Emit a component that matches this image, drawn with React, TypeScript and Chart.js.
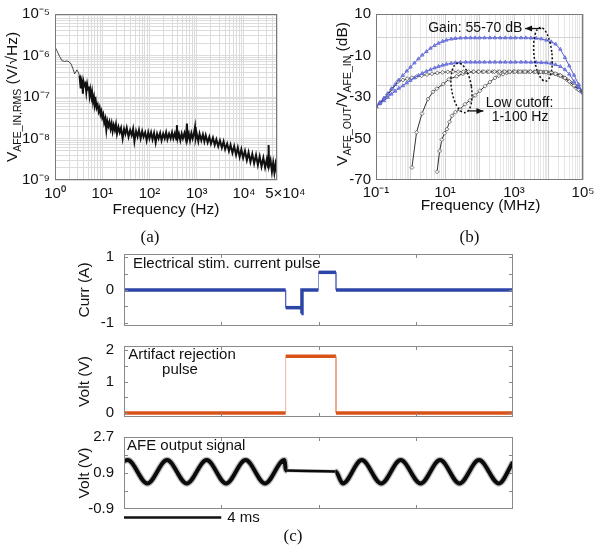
import React, { useEffect, useRef } from "react";
import { Chart, registerables } from "chart.js";
Chart.register(...registerables);

const FONT = '"Liberation Sans", Arial, Helvetica, sans-serif';
const SERIF = '"Liberation Serif", "Times New Roman", serif';
Chart.defaults.font.family = FONT;
Chart.defaults.color = "#111";

// ---------- Panel (a): input-referred noise ----------
const noiseFreqHz = [1, 1.1, 1.25, 1.4, 1.6, 1.8, 2.0, 2.2, 2.4, 2.6, 2.75, 2.9, 3.1, 3.3,
  3.5, 3.6, 3.75, 3.9, 4.0, 4.2, 4.4, 4.6, 4.8, 5.0, 5.2, 5.4, 5.6, 5.9, 6.1, 6.4, 6.7, 7.0, 7.3, 7.6, 8.0, 8.4, 8.8, 9.2, 9.6, 10,
  10.5, 11, 11.6, 12.2, 12.8, 13.5, 14.2, 15, 15.8, 16.6, 17.5, 18.5, 19.5, 20.5,
  22, 23.5, 25, 27, 29, 31, 33, 36, 39, 42, 45, 48, 52, 56, 60, 65, 70, 75, 81, 87, 94, 100, 108, 116, 125, 135, 145, 156, 168, 180, 195, 210, 225, 240, 260, 280, 300,
  320, 345, 370, 380, 395, 420, 450, 480, 510, 550, 590, 620, 640, 680, 720, 770, 820, 870, 920, 950, 1000, 1080, 1150, 1250, 1350, 1450, 1550, 1700, 1850, 2000,
  2200, 2400, 2600, 2850, 3100, 3400, 3700, 4000, 4400, 4800, 5200, 5700, 6200, 6800, 7400, 8100, 8800, 9600, 10500, 11500, 12500, 13700, 15000, 16400, 18000, 19700, 21500, 23500, 25700, 28000, 30500, 32500, 33200, 34000, 36500, 39000, 41500, 44000, 46500, 50000];
const noiseVrms = [1.6e-6, 1.3e-6, 9.5e-7, 7.5e-7, 7.2e-7, 7.4e-7, 7.0e-7, 6.2e-7, 4.8e-7, 3.6e-7, 4.0e-7, 4.5e-7, 4.0e-7, 3.3e-7,
  1.6e-7, 2.6e-7, 2.2e-7, 1.2e-7, 2.4e-7, 1.9e-7, 2.1e-7, 1.3e-7, 2.0e-7, 1.5e-7, 1.8e-7, 1.1e-7, 1.5e-7, 1.0e-7, 1.3e-7, 7.5e-8, 1.0e-7, 6.5e-8, 8.0e-8, 5.5e-8, 6.5e-8, 4.5e-8, 5.5e-8, 3.8e-8, 4.5e-8, 3.2e-8,
  3.8e-8, 2.4e-8, 3.0e-8, 1.6e-8, 2.6e-8, 2.0e-8, 2.5e-8, 1.7e-8, 2.3e-8, 1.5e-8, 2.1e-8, 1.6e-8, 2.2e-8, 1.3e-8,
  1.9e-8, 1.4e-8, 1.8e-8, 1.0e-8, 1.7e-8, 1.3e-8, 1.8e-8, 1.1e-8, 1.6e-8, 1.2e-8, 1.7e-8, 8.5e-9, 1.5e-8, 1.1e-8, 1.6e-8, 1.0e-8, 1.5e-8, 1.1e-8, 1.4e-8, 9.0e-9, 1.4e-8, 1.0e-8, 1.4e-8, 9.5e-9, 1.35e-8, 8.0e-9, 1.3e-8, 1.0e-8, 1.35e-8, 9.0e-9, 1.3e-8, 1.0e-8, 1.4e-8, 9.5e-9, 1.3e-8, 1.0e-8, 1.4e-8,
  1.0e-8, 1.35e-8, 9.5e-9, 2.1e-8, 1.0e-8, 1.3e-8, 9.0e-9, 1.3e-8, 1.0e-8, 1.35e-8, 9.5e-9, 2.3e-8, 1.0e-8, 1.3e-8, 9.0e-9, 1.35e-8, 1.0e-8, 1.3e-8, 1.9e-8, 1.0e-8, 1.3e-8, 8.5e-9, 1.3e-8, 9.0e-9, 1.25e-8, 8.5e-9, 1.2e-8, 8.0e-9, 1.1e-8, 7.5e-9,
  1.05e-8, 7.0e-9, 9.5e-9, 6.5e-9, 9.0e-9, 6.0e-9, 8.5e-9, 5.5e-9, 7.5e-9, 5.0e-9, 7.0e-9, 4.5e-9, 6.5e-9, 4.0e-9, 6.0e-9, 3.6e-9, 5.5e-9, 3.4e-9, 5.0e-9, 3.0e-9, 4.6e-9, 2.7e-9, 4.2e-9, 2.5e-9, 4.0e-9, 2.3e-9, 3.7e-9, 2.1e-9, 3.4e-9, 2.0e-9, 3.2e-9, 2.0e-9, 7.0e-9, 2.2e-9, 3.0e-9, 1.6e-9, 2.6e-9, 1.5e-9, 2.4e-9, 1.4e-9];
const aXTickValues = [1, 10, 100, 1000, 10000, 50000];
const aXTickLabels = ["10⁰", "10¹", "10²", "10³", "10⁴", "    5×10⁴"];
const aYTickValues = [1e-9, 1e-8, 1e-7, 1e-6, 1e-5];
const aYTickLabels = ["10⁻⁹", "10⁻⁸", "10⁻⁷", "10⁻⁶", "10⁻⁵"];

// ---------- Panel (b): AFE frequency response [freq, dB] ----------
const gainHighCurve: [number, number][] = [[0.1, -34.5], [0.13, -32.5], [0.17, -30.5], [0.22, -28.3], [0.28, -26], [0.36, -24], [0.46, -21.8], [0.6, -19.6], [0.78, -17.5], [1.0, -15.6], [1.3, -13.6], [1.7, -11.6], [2.2, -9.8], [2.9, -8.1], [3.8, -6.5], [5, -5.2], [6.5, -4.1], [8.5, -3.2], [11, -2.6], [15, -2.1], [20, -1.8], [28, -1.6], [40, -1.5], [55, -1.5], [75, -1.5], [100, -1.5], [140, -1.5], [200, -1.5], [280, -1.5], [400, -1.5], [560, -1.5], [800, -1.5], [1100, -1.5], [1600, -1.5], [2200, -1.5], [3100, -1.6], [4400, -1.7], [6200, -2], [8700, -2.6], [12000, -3.4], [16000, -4.5], [22000, -7], [30000, -11], [40000, -15], [55000, -19.5], [75000, -24], [100000, -28]];
const gainMidCurve: [number, number][] = [[0.1, -34.5], [0.13, -33.2], [0.17, -31.8], [0.22, -30.2], [0.28, -28.6], [0.36, -27.2], [0.46, -25.8], [0.6, -24.6], [0.78, -23.2], [1.0, -22], [1.3, -20.8], [1.7, -19.6], [2.2, -18.6], [2.9, -17.6], [3.8, -16.8], [5, -16], [6.5, -15.3], [8.5, -14.7], [11, -14.2], [15, -13.8], [20, -13.5], [28, -13.3], [40, -13.2], [55, -13.2], [75, -13.2], [100, -13.2], [140, -13.2], [200, -13.2], [280, -13.2], [400, -13.2], [560, -13.2], [800, -13.2], [1100, -13.2], [1600, -13.2], [2200, -13.2], [3100, -13.3], [4400, -13.3], [6200, -13.4], [8700, -13.5], [12000, -13.8], [16000, -14.4], [22000, -15.3], [30000, -16.8], [40000, -19], [55000, -22.5], [75000, -25.5], [100000, -28]];
const cutoffLowCurve: [number, number][] = [[0.1, -35], [0.13, -33], [0.17, -31], [0.22, -28.8], [0.3, -26.2], [0.43, -22.6], [0.6, -21.8], [0.8, -21.2], [1.1, -20.7], [1.5, -20.2], [2.1, -19.7], [3, -19.2], [4.2, -18.8], [6, -18.4], [8.5, -18.1], [12, -17.9], [17, -17.8], [24, -17.8], [34, -17.8], [48, -17.8], [68, -17.8], [95, -17.8], [135, -17.8], [190, -17.8], [270, -17.8], [380, -17.8], [540, -17.8], [760, -17.8], [1080, -17.8], [1500, -17.8], [2100, -17.8], [3000, -17.8], [4200, -17.9], [6000, -17.9], [8500, -18], [12000, -18.2], [16000, -18.8], [22000, -19.6], [30000, -20.8], [40000, -22.5], [55000, -24.5], [75000, -26.5], [100000, -28]];
const cutoffMidCurve: [number, number][] = [[1.1, -64], [1.5, -47], [2.15, -38], [3.2, -31], [4.5, -27.5], [5.8, -26], [8.8, -23.8], [13, -21.5], [22, -20], [33, -18.8], [45, -18.2], [65, -17.9], [90, -17.8], [120, -17.8], [170, -17.8], [240, -17.8], [340, -17.8], [480, -17.8], [680, -17.8], [950, -17.8], [1350, -17.8], [1900, -17.8], [2700, -17.8], [3800, -17.9], [5300, -17.9], [7500, -18], [10500, -18.3], [15000, -18.8], [21000, -19.6], [29000, -20.8], [40000, -22.5], [56000, -24.6], [78000, -26.6], [100000, -28]];
const cutoffHighCurve: [number, number][] = [[5.9, -66], [7, -56], [8.1, -50.6], [9.7, -47.5], [11.4, -45.5], [13.5, -42], [16, -39], [20, -37.3], [27, -36], [38, -33.5], [53, -31.6], [75, -29.2], [103, -27], [145, -24.8], [200, -22.8], [280, -20.8], [360, -19.8], [480, -19], [620, -18.3], [770, -18], [1000, -17.8], [1300, -17.8], [1700, -17.8], [2300, -17.8], [3000, -17.8], [4000, -17.9], [5500, -17.9], [7000, -18], [9500, -18.2], [13000, -18.5], [18000, -19.2], [25000, -20.2], [34000, -21.6], [47000, -23.6], [65000, -25.8], [85000, -27.2], [100000, -28]];
const bXTickValues = [0.1, 10, 1000, 100000];
const bXTickLabels = ["10⁻¹", "10¹", "10³", "10⁵"];
const bYTickValues = [-70, -50, -30, -10, 10];
const bYTickLabels = ["-70", "-50", "-30", "-10", "10"];
const bYGridValues = [-58.57, -47.14, -35.71, -24.29, -12.86, -1.43];

// ---------- Panel (c): time traces ----------
const timeTickMs = [0, 4, 8, 12, 16];
const stimTimeMs = [0, 6.65, 6.65, 7.3, 7.3, 7.32, 8.0, 8.0, 8.72, 8.72, 16];
const stimCurrentA = [0, 0, -0.54, -0.54, -0.72, 0, 0, 0.54, 0.54, 0, 0];
const stimYTicks = [-1, -0.5, 0, 0.5, 1];
const stimYLabels = ["-1", "", "0", "", "1"];
const artTimeMs = [0, 6.65, 6.65, 8.72, 8.72, 16];
const artVolt = [0, 0, 1.8, 1.8, 0, 0];
const artYTicks = [0, 0.5, 1, 1.5, 2];
const artYLabels = ["0", "", "1", "", "2"];
const afeTimeMs = [0, 0.15, 0.96, 1.77, 2.58, 3.4, 4.2, 5.0, 5.8, 6.6, 6.65, 6.7, 8.7, 9.0, 9.78, 10.58, 11.38, 12.2, 13.0, 13.8, 14.6, 15.42, 16];
const afeVolt = [1.5, 1.55, 0.38, 1.55, 0.38, 1.55, 0.38, 1.55, 0.38, 1.55, 1.1, 1.02, 0.98, 0.38, 1.55, 0.38, 1.55, 0.38, 1.55, 0.38, 1.55, 0.38, 1.45];
const afeYTicks = [-0.9, 0, 0.9, 1.8, 2.7];
const afeYLabels = ["-0.9", "", "0.9", "", "2.7"];

// ---------- helpers ----------
function labelFor(values: number[], labels: string[], v: number) {
  const i = values.findIndex((t) => Math.abs(t - v) <= 1e-6 * Math.max(Math.abs(t), 1e-12));
  return i >= 0 ? labels[i] : "";
}
function keepIntegerMantissa(scale: any) {
  scale.ticks = scale.ticks.filter((t: any) => {
    const e = Math.floor(Math.log10(t.value) + 1e-9);
    const m = t.value / Math.pow(10, e);
    return Math.abs(m - Math.round(m)) < 1e-6;
  });
}
function isDecade(v: number) {
  const l = Math.log10(v);
  return Math.abs(l - Math.round(l)) < 1e-6;
}
function frame(ctx: CanvasRenderingContext2D, a: any, color: string) {
  ctx.save();
  ctx.strokeStyle = color;
  ctx.lineWidth = 1;
  ctx.strokeRect(Math.round(a.left) + 0.5, Math.round(a.top) + 0.5, Math.round(a.right - a.left) - 1, Math.round(a.bottom - a.top) - 1);
  ctx.restore();
}
function text(ctx: CanvasRenderingContext2D, s: string, x: number, y: number, size: number, align: CanvasTextAlign = "center", family = FONT) {
  ctx.save();
  ctx.font = `${size}px ${family}`;
  ctx.fillStyle = "#111";
  ctx.textAlign = align;
  ctx.textBaseline = "middle";
  ctx.fillText(s, x, y);
  ctx.restore();
}
function drawRich(ctx: CanvasRenderingContext2D, parts: [string, boolean][], x: number, y: number, rotate: boolean, size = 15.5, subSize = 10.5) {
  ctx.save();
  ctx.translate(x, y);
  if (rotate) ctx.rotate(-Math.PI / 2);
  let w = 0;
  for (const [t, sub] of parts) {
    ctx.font = `${sub ? subSize : size}px ${FONT}`;
    w += ctx.measureText(t).width;
  }
  let cx = -w / 2;
  ctx.fillStyle = "#111";
  ctx.textAlign = "left";
  ctx.textBaseline = "middle";
  for (const [t, sub] of parts) {
    ctx.font = `${sub ? subSize : size}px ${FONT}`;
    ctx.fillText(t, cx, sub ? size * 0.33 : 0);
    cx += ctx.measureText(t).width;
  }
  ctx.restore();
}
function arrow(ctx: CanvasRenderingContext2D, x0: number, y0: number, x1: number, y1: number) {
  ctx.save();
  ctx.strokeStyle = "#111";
  ctx.fillStyle = "#111";
  ctx.lineWidth = 1.3;
  ctx.setLineDash([]);
  ctx.beginPath();
  ctx.moveTo(x0, y0);
  ctx.lineTo(x1, y1);
  ctx.stroke();
  const ang = Math.atan2(y1 - y0, x1 - x0);
  ctx.beginPath();
  ctx.moveTo(x1, y1);
  ctx.lineTo(x1 - 7 * Math.cos(ang) + 3 * Math.sin(ang), y1 - 7 * Math.sin(ang) - 3 * Math.cos(ang));
  ctx.lineTo(x1 - 7 * Math.cos(ang) - 3 * Math.sin(ang), y1 - 7 * Math.sin(ang) + 3 * Math.cos(ang));
  ctx.closePath();
  ctx.fill();
  ctx.restore();
}
function dottedEllipse(ctx: CanvasRenderingContext2D, cx: number, cy: number, rx: number, ry: number, rot: number) {
  ctx.save();
  ctx.strokeStyle = "#111";
  ctx.lineWidth = 1.5;
  ctx.setLineDash([2, 2]);
  ctx.beginPath();
  ctx.ellipse(cx, cy, rx, ry, rot, 0, Math.PI * 2);
  ctx.stroke();
  ctx.restore();
}
function insideTicks(ctx: CanvasRenderingContext2D, chart: any, yTicks: number[], xTicks: number[]) {
  const { left, right, top, bottom } = chart.chartArea;
  const xs = chart.scales.x, ys = chart.scales.y;
  ctx.save();
  ctx.strokeStyle = "#888";
  ctx.lineWidth = 1;
  ctx.beginPath();
  for (const v of yTicks) {
    const py = Math.round(ys.getPixelForValue(v)) + 0.5;
    if (py <= top + 2 || py >= bottom - 2) continue;
    ctx.moveTo(left, py); ctx.lineTo(left + 4, py);
    ctx.moveTo(right - 4, py); ctx.lineTo(right, py);
  }
  for (const v of xTicks) {
    const px = Math.round(xs.getPixelForValue(v)) + 0.5;
    if (px <= left + 2 || px >= right - 2) continue;
    ctx.moveTo(px, top); ctx.lineTo(px, top + 4);
    ctx.moveTo(px, bottom - 4); ctx.lineTo(px, bottom);
  }
  ctx.stroke();
  ctx.restore();
  frame(ctx, chart.chartArea, "#8a8a8a");
}
const pairs = (xs: number[], ys: number[]) => xs.map((x, i) => ({ x, y: ys[i] }));
const tuples = (arr: [number, number][]) => arr.map(([x, y]) => ({ x, y }));

const baseOptions = {
  responsive: false,
  animation: false as const,
  events: [] as any[],
  plugins: { legend: { display: false }, tooltip: { enabled: false } },
};

// ---------- Panel (a) ----------
function makeA(canvas: HTMLCanvasElement) {
  const deco = {
    id: "decoA",
    afterDraw(chart: any) {
      const { ctx, chartArea: a } = chart;
      frame(ctx, a, "#7a7a7a");
      drawRich(ctx, [["V", false], ["AFE_IN,RMS", true], [" (V/√Hz)", false]], a.left - 42, (a.top + a.bottom) / 2, true);
      text(ctx, "Frequency (Hz)", (a.left + a.right) / 2, a.bottom + 30, 15.5);
      text(ctx, "(a)", (a.left + a.right) / 2 - 16, 238, 17, "center", SERIF);
    },
  };
  return new Chart(canvas, {
    type: "line",
    data: {
      datasets: [{
        data: pairs(noiseFreqHz, noiseVrms), borderColor: "#111", borderWidth: 2, pointRadius: 0, tension: 0,
        segment: {
          borderWidth: (c: any) => (c.p1.parsed.x <= 3.3 ? 1 : 2),
          borderColor: (c: any) => (c.p1.parsed.x <= 3.3 ? "#444" : "#111"),
        },
      }],
    },
    options: {
      ...baseOptions,
      layout: { autoPadding: false, padding: { left: 0, top: 7, right: 323, bottom: 327 } },
      scales: {
        x: {
          type: "logarithmic", min: 1, max: 50000,
          afterFit: (s: any) => { s.height = 40; },
          afterBuildTicks: keepIntegerMantissa,
          grid: { color: "#dcdcdc", lineWidth: 1, drawTicks: false },
          border: { display: false },
          ticks: { autoSkip: false, maxRotation: 0, minRotation: 0, padding: 5, font: { size: 15 }, color: "#111", callback: (v: any) => labelFor(aXTickValues, aXTickLabels, Number(v)) },
        },
        y: {
          type: "logarithmic", min: 1e-9, max: 1e-5,
          afterFit: (s: any) => { s.width = 55; },
          afterBuildTicks: keepIntegerMantissa,
          grid: { color: "#dcdcdc", lineWidth: 1, drawTicks: false },
          border: { display: false },
          ticks: { autoSkip: false, padding: 5, font: { size: 15 }, color: "#111", callback: (v: any) => labelFor(aYTickValues, aYTickLabels, Number(v)) },
        },
      },
    } as any,
    plugins: [deco],
  });
}

// ---------- Panel (b) ----------
function makeB(canvas: HTMLCanvasElement) {
  const deco = {
    id: "decoB",
    afterDraw(chart: any) {
      const { ctx, chartArea: a, scales } = chart;
      const X = (f: number) => scales.x.getPixelForValue(f);
      const Y = (d: number) => scales.y.getPixelForValue(d);
      frame(ctx, a, "#7a7a7a");
      drawRich(ctx, [["V", false], ["AFE_OUT", true], ["/V", false], ["AFE_IN", true], [" (dB)", false]], a.left - 33, (a.top + a.bottom) / 2 - 3, true);
      text(ctx, "Frequency (MHz)", (a.left + a.right) / 2 + 1, a.bottom + 26, 15.5);
      text(ctx, "(b)", (a.left + a.right) / 2 - 10, 238, 17, "center", SERIF);
      // gain annotation
      dottedEllipse(ctx, X(6900), Y(-9.4), 9, 27, -0.1);
      arrow(ctx, X(6200), Y(3), X(2100), Y(3));
      text(ctx, "Gain: 55-70 dB", X(1750), Y(3), 14, "right");
      // low cutoff annotation
      dottedEllipse(ctx, X(30), Y(-25.6), 10, 25, -0.15);
      arrow(ctx, X(50), Y(-36.7), X(130), Y(-36.7));
      text(ctx, "Low cutoff:", X(1450), Y(-32.8), 14);
      text(ctx, "1-100 Hz", X(1500), Y(-39.8), 14);
    },
  };
  const blue = (data: [number, number][], style: string) => ({
    data: tuples(data), borderColor: "rgba(70,72,200,0.85)", borderWidth: 1, pointRadius: 2, pointStyle: style,
    pointBorderColor: "rgba(80,90,215,0.9)", pointBackgroundColor: "rgba(120,130,230,0.6)", pointBorderWidth: 0.8, tension: 0,
  });
  const black = (data: [number, number][]) => ({
    data: tuples(data), borderColor: "#333", borderWidth: 1, pointRadius: 2, pointStyle: "rectRot",
    pointBorderColor: "#555", pointBackgroundColor: "rgba(255,255,255,0.9)", pointBorderWidth: 0.8, tension: 0,
  });
  return new Chart(canvas, {
    type: "line",
    data: {
      datasets: [
        blue(gainHighCurve, "triangle"),
        blue(gainMidCurve, "triangle"),
        black(cutoffLowCurve),
        black(cutoffMidCurve),
        black(cutoffHighCurve),
      ],
    },
    options: {
      ...baseOptions,
      layout: { autoPadding: false, padding: { left: 336, top: 7, right: 17, bottom: 327 } },
      scales: {
        x: {
          type: "logarithmic", min: 0.1, max: 100000,
          afterFit: (s: any) => { s.height = 40; },
          afterBuildTicks: keepIntegerMantissa,
          grid: { color: (c: any) => (c.tick && isDecade(c.tick.value) ? "#cfcfcf" : "#e6e6e6"), lineWidth: 1, drawTicks: false },
          border: { display: false },
          ticks: { autoSkip: false, maxRotation: 0, minRotation: 0, padding: 4, font: { size: 15 }, color: "#111", callback: (v: any) => labelFor(bXTickValues, bXTickLabels, Number(v)) },
        },
        y: {
          type: "linear", min: -70, max: 10,
          afterFit: (s: any) => { s.width = 40; },
          afterBuildTicks: (s: any) => {
            s.ticks = [...bYTickValues, ...bYGridValues].sort((p, q) => p - q).map((value) => ({ value }));
          },
          grid: { color: (c: any) => (c.tick && bYGridValues.includes(c.tick.value) ? "#d2d2d2" : "rgba(0,0,0,0)"), lineWidth: 1, drawTicks: false },
          border: { display: false },
          ticks: { autoSkip: false, padding: 5, font: { size: 15 }, color: "#111", callback: (v: any) => labelFor(bYTickValues, bYTickLabels, Number(v)) },
        },
      },
    } as any,
    plugins: [deco],
  });
}

// ---------- Panel (c) ----------
function makeTrace(
  canvas: HTMLCanvasElement, top: number, bottom: number, ymin: number, ymax: number,
  yTicks: number[], yLabels: string[], datasets: any[], yTitle: string, extra: (chart: any) => void,
) {
  const deco = {
    id: "decoTrace",
    afterDraw(chart: any) {
      const { ctx, chartArea: a } = chart;
      insideTicks(ctx, chart, yTicks, timeTickMs);
      ctx.save();
      ctx.translate(a.left - 39, (a.top + a.bottom) / 2);
      ctx.rotate(-Math.PI / 2);
      ctx.font = `15.5px ${FONT}`;
      ctx.fillStyle = "#111";
      ctx.textAlign = "center";
      ctx.textBaseline = "middle";
      ctx.fillText(yTitle, 0, 0);
      ctx.restore();
      extra(chart);
    },
  };
  return new Chart(canvas, {
    type: "line",
    data: { datasets },
    options: {
      ...baseOptions,
      layout: { autoPadding: false, padding: { left: 84, top, right: 87, bottom: 547 - bottom } },
      scales: {
        x: { type: "linear", min: 0, max: 16, display: false },
        y: {
          type: "linear", min: ymin, max: ymax,
          afterFit: (s: any) => { s.width = 40; },
          afterBuildTicks: (s: any) => { s.ticks = yTicks.map((value) => ({ value })); },
          grid: { display: false, drawTicks: false },
          border: { display: false },
          ticks: { autoSkip: false, padding: 10, font: { size: 15 }, color: "#111", callback: (v: any) => labelFor(yTicks, yLabels, Number(v)) },
        },
      },
    } as any,
    plugins: [deco],
  });
}

function makeC1(canvas: HTMLCanvasElement) {
  const ds = [{
    data: pairs(stimTimeMs, stimCurrentA), borderColor: "#2e45a8", borderWidth: 3.5, pointRadius: 0, tension: 0,
    segment: {
      borderWidth: (c: any) => (c.p0.parsed.x === c.p1.parsed.x ? 1 : 3.5),
      borderColor: (c: any) => (c.p0.parsed.x === c.p1.parsed.x ? "rgba(60,80,180,0.6)" : "#2e45a8"),
    },
  }];
  return makeTrace(canvas, 254, 326, -1.1, 1.1, stimYTicks, stimYLabels, ds, "Curr (A)", (chart) => {
    const a = chart.chartArea;
    text(chart.ctx, "Electrical stim. current pulse", a.left + 9, a.top + 10, 15, "left");
  });
}
function makeC2(canvas: HTMLCanvasElement) {
  const ds = [{
    data: pairs(artTimeMs, artVolt), borderColor: "#d95319", borderWidth: 3.5, pointRadius: 0, tension: 0,
    segment: {
      borderWidth: (c: any) => (c.p0.parsed.x === c.p1.parsed.x ? 1 : 3.5),
      borderColor: (c: any) => (c.p0.parsed.x === c.p1.parsed.x ? "rgba(230,120,80,0.55)" : "#d95319"),
    },
  }];
  return makeTrace(canvas, 346, 417, -0.13, 2.13, artYTicks, artYLabels, ds, "Volt (V)", (chart) => {
    const a = chart.chartArea;
    text(chart.ctx, "Artifact rejection", a.left + 58, a.top + 9, 15);
    text(chart.ctx, "pulse", a.left + 56, a.top + 24, 15);
  });
}
function makeC3(canvas: HTMLCanvasElement) {
  const flat = (c: any) => c.p0.parsed.x >= 6.69 && c.p1.parsed.x <= 8.71;
  const ds = [
    {
      data: pairs(afeTimeMs, afeVolt), borderColor: "#0b0b0b", borderWidth: 4, pointRadius: 0, cubicInterpolationMode: "monotone",
      segment: { borderWidth: (c: any) => (flat(c) ? 2.5 : 4) },
    },
    {
      data: pairs(afeTimeMs, afeVolt), borderColor: "rgba(0,0,0,0.25)", borderWidth: 6.5, pointRadius: 0, cubicInterpolationMode: "monotone",
      segment: { borderWidth: (c: any) => (flat(c) ? 3.5 : 6.5) },
    },
  ];
  return makeTrace(canvas, 437, 509, -0.9, 2.7, afeYTicks, afeYLabels, ds, "Volt (V)", (chart) => {
    const { ctx, chartArea: a, scales } = chart;
    text(ctx, "AFE output signal", a.left + 3, a.top + 9, 15, "left");
    const x0 = scales.x.getPixelForValue(0);
    const x1 = scales.x.getPixelForValue(4);
    ctx.save();
    ctx.strokeStyle = "#111";
    ctx.lineWidth = 2.5;
    ctx.beginPath();
    ctx.moveTo(x0, a.bottom + 8.5);
    ctx.lineTo(x1, a.bottom + 8.5);
    ctx.stroke();
    ctx.restore();
    text(ctx, "4 ms", x1 + 6, a.bottom + 9, 15, "left");
    text(ctx, "(c)", 293, 537, 17, "center", SERIF);
  });
}

export default function App() {
  const r0 = useRef<HTMLCanvasElement>(null);
  const r1 = useRef<HTMLCanvasElement>(null);
  const r2 = useRef<HTMLCanvasElement>(null);
  const r3 = useRef<HTMLCanvasElement>(null);
  const r4 = useRef<HTMLCanvasElement>(null);
  const refs = [r0, r1, r2, r3, r4];
  useEffect(() => {
    const charts = [
      makeA(r0.current!),
      makeB(r1.current!),
      makeC1(r2.current!),
      makeC2(r3.current!),
      makeC3(r4.current!),
    ];
    return () => charts.forEach((c) => c.destroy());
  }, []);
  return (
    <div style={{ position: "absolute", left: 0, top: 0, width: 600, height: 547, background: "#fff", overflow: "hidden" }}>
      {refs.map((r, i) => (
        <canvas key={i} ref={r} width={600} height={547} style={{ position: "absolute", left: 0, top: 0, width: 600, height: 547 }} />
      ))}
    </div>
  );
}
